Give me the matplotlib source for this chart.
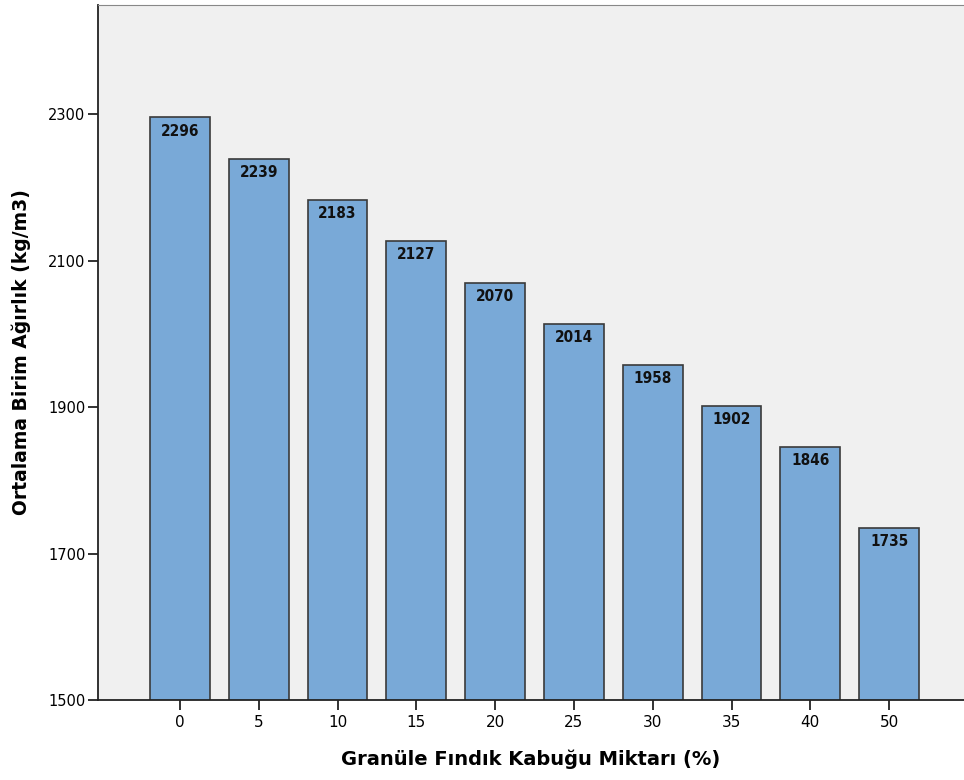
import matplotlib
matplotlib.use("Agg")
import matplotlib.pyplot as plt
import numpy as np

categories = ["0", "5", "10", "15", "20", "25", "30", "35", "40", "50"]
values = [2296, 2239, 2183, 2127, 2070, 2014, 1958, 1902, 1846, 1735]
yticks = [1500, 1700, 1900, 2100, 2300]

plt.rcParams["font.family"] = ["DejaVu Sans"]

fig = plt.figure(figsize=(9.64, 7.8), dpi=100)
ax = fig.add_axes([98 / 964, 80 / 780, 1 - 98 / 964, 695 / 780])
ax.set_facecolor("#f0f0f0")

x = np.arange(len(categories))
ax.bar(x, values, width=0.76, color="#79a9d7",
       edgecolor="#3a3a3a", linewidth=1.2, zorder=2)

# value labels just inside the top of each bar
for xi, v in zip(x, values):
    ax.text(xi, v - 9, str(v), ha="center", va="top", fontsize=11,
            fontweight="bold", fontstretch="condensed", color="#111111",
            zorder=3)

ax.set_xlim(-1.04, 9.95)
ax.set_ylim(1500, 2449)
ax.set_xticks(x)
ax.set_xticklabels(categories, fontsize=11)
ax.set_yticks(yticks)
ax.set_yticklabels([str(t) for t in yticks], fontsize=10.5)
ax.tick_params(axis="both", length=7, width=1.3, color="#222222", pad=2)
ax.tick_params(axis="x", pad=4)

ax.spines["right"].set_visible(False)
ax.spines["top"].set_color("#888888")
for s in ("left", "bottom"):
    ax.spines[s].set_linewidth(1.3)
    ax.spines[s].set_color("#222222")

ax.set_xlabel("Granüle Fındık Kabuğu Miktarı (%)", fontsize=14,
              fontweight="bold", labelpad=14)
ax.set_ylabel("Ortalama Birim Ağırlık (kg/m3)", fontsize=13.5,
              fontweight="bold", labelpad=12)

fig.savefig("out.png", dpi=100)
